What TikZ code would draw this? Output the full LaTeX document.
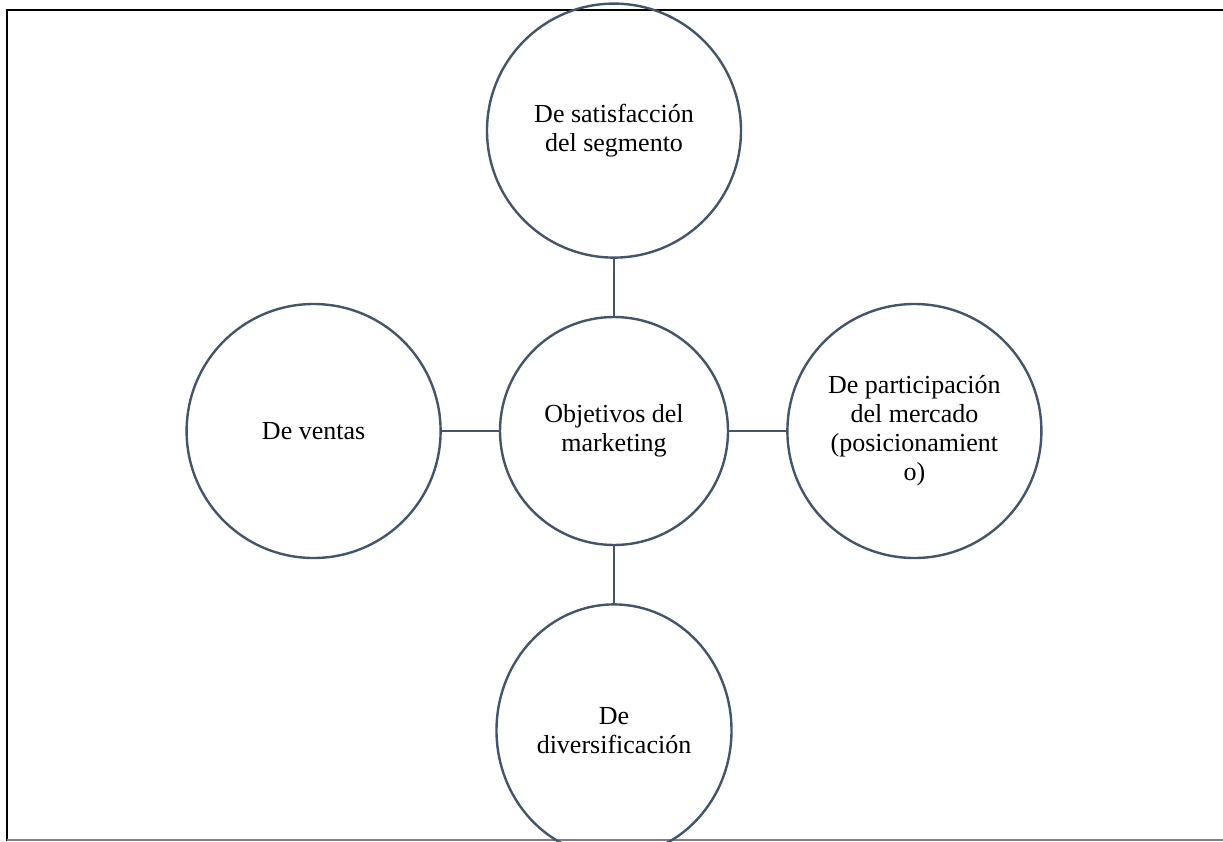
\documentclass[tikz,border=0pt]{standalone}
\usepackage{fontspec}
\setmainfont{Liberation Serif}
\usetikzlibrary{positioning,shapes.geometric}
\definecolor{slate}{HTML}{44546A}
\tikzset{
  goal/.style={draw=slate, line width=2.4pt, circle, inner sep=0, minimum size=254pt,
    align=center, font=\fontsize{26}{29}\selectfont},
  link/.style={draw=slate, line width=2.4pt}
}
\begin{document}
\begin{tikzpicture}[x=1pt, y=-1pt, node distance=57pt]
      \useasboundingbox (0,0) rectangle (1223,841);
      \clip (0,0) rectangle (1223,841);
      % frame
      \draw [line width=2.8pt] (1223,10) -- (7,10) -- (7,841);
      \draw [gray, line width=1.5pt] (7,840) -- (1223,840);
      \node [goal, minimum size=228pt] (obj) at (614,431) {Objetivos del\\marketing};
      \node [goal, above=of obj] (satis) {De satisfacción\\del segmento};
      \node [goal, left=of obj] (ventas) {De ventas};
      \node [goal, right=of obj] (partic) {De participación\\del mercado\\(posicionamient\\o)};
      \node [goal, ellipse, minimum width=235pt, minimum height=252pt, below=of obj] (divers) {De\\diversificación};
      \draw [link] (obj) -- (satis);
      \draw [link] (obj) -- (ventas);
      \draw [link] (obj) -- (partic);
      \draw [link] (obj) -- (divers);
    \end{tikzpicture}
\end{document}
